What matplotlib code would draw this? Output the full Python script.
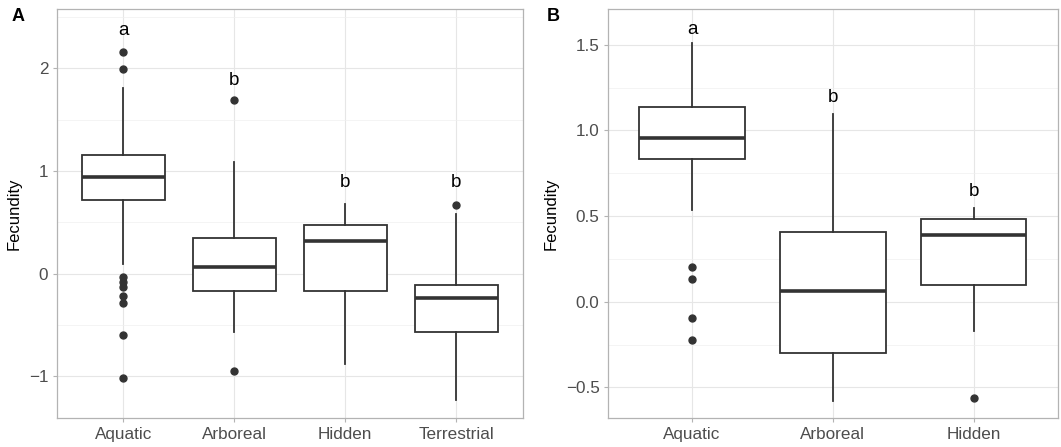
import numpy as np
import matplotlib
matplotlib.use("Agg")
import matplotlib.pyplot as plt
from matplotlib.ticker import MultipleLocator

plt.rcParams['font.family'] = ['Liberation Sans', 'DejaVu Sans']

# panel A: four habitats
cats_a = ['Aquatic', 'Arboreal', 'Hidden', 'Terrestrial']
med_a = [0.945, 0.068, 0.321, -0.234]
q1_a = [0.718, -0.169, -0.169, -0.571]
q3_a = [1.156, 0.344, 0.477, -0.110]
wlo_a = [0.091, -0.571, -0.883, -1.231]
whi_a = [1.805, 1.091, 0.675, 0.578]
fliers_a = [[2.159, 1.994, -0.029, -0.078, -0.130, -0.219, -0.289, -0.597, -1.013],
            [1.688, -0.945],
            [],
            [0.666]]
letters_a = ['a', 'b', 'b', 'b']
letter_y_a = [2.373, 1.88, 0.886, 0.886]

# panel B: three habitats
cats_b = ['Aquatic', 'Arboreal', 'Hidden']
med_b = [0.953, 0.062, 0.392]
q1_b = [0.832, -0.298, 0.097]
q3_b = [1.134, 0.409, 0.485]
wlo_b = [0.534, -0.577, -0.168]
whi_b = [1.509, 1.096, 0.548]
fliers_b = [[0.203, 0.133, -0.094, -0.222],
            [],
            [-0.561]]
letters_b = ['a', 'b', 'b']
letter_y_b = [1.591, 1.191, 0.641]

dark = '#333333'
grid_col = '#E6E6E6'
border_col = '#B3B3B3'


def boxpanel(ax, cats, med, q1, q3, wlo, whi, fliers, letters, ly, ylim, major, minor):
    stats = []
    for i in range(len(cats)):
        stats.append({'med': med[i], 'q1': q1[i], 'q3': q3[i],
                      'whislo': wlo[i], 'whishi': whi[i], 'fliers': fliers[i]})
    pos = np.arange(1, len(cats) + 1)
    ax.bxp(stats, positions=pos, widths=0.75, showcaps=False, patch_artist=True,
           boxprops=dict(facecolor='white', edgecolor=dark, linewidth=1.3),
           medianprops=dict(color=dark, linewidth=2.6),
           whiskerprops=dict(color=dark, linewidth=1.3),
           flierprops=dict(marker='o', markerfacecolor=dark, markeredgecolor=dark,
                           markersize=5),
           zorder=3)
    for p, t, y in zip(pos, letters, ly):
        ax.text(p, y, t, ha='center', va='center', fontsize=13.5, color='black', zorder=4)
    ax.set_xlim(0.4, len(cats) + 0.6)
    ax.set_ylim(*ylim)
    ax.set_xticks(pos)
    ax.set_xticklabels(cats)
    ax.yaxis.set_major_locator(MultipleLocator(major))
    ax.yaxis.set_minor_locator(MultipleLocator(minor))
    ax.grid(True, which='major', color=grid_col, linewidth=0.8, zorder=0)
    ax.grid(True, which='minor', axis='y', color='#F0F0F0', linewidth=0.5, zorder=0)
    ax.set_axisbelow(True)
    for s in ax.spines.values():
        s.set_color(border_col)
        s.set_linewidth(0.9)
    ax.tick_params(which='major', length=3, color=border_col, labelsize=12.3,
                   labelcolor='#4D4D4D', pad=3)
    ax.tick_params(which='minor', length=0)
    ax.set_ylabel('Fecundity', fontsize=12, color='black', labelpad=5)


fig = plt.figure(figsize=(10.61, 4.47), dpi=100)
ax_a = fig.add_axes([0.0534, 0.0642, 0.4394, 0.9148])
ax_b = fig.add_axes([0.5728, 0.0642, 0.4243, 0.9148])

boxpanel(ax_a, cats_a, med_a, q1_a, q3_a, wlo_a, whi_a, fliers_a, letters_a, letter_y_a,
         (-1.408, 2.575), 1, 0.5)
boxpanel(ax_b, cats_b, med_b, q1_b, q3_b, wlo_b, whi_b, fliers_b, letters_b, letter_y_b,
         (-0.68, 1.706), 0.5, 0.25)

ax_b.set_yticklabels([f'{v:.1f}'.replace('-', '\u2212') for v in ax_b.get_yticks()])
ax_b.set_ylim(-0.68, 1.706)

fig.text(0.011, 0.962, 'A', fontsize=13, fontweight='bold', va='center', ha='left')
fig.text(0.515, 0.962, 'B', fontsize=13, fontweight='bold', va='center', ha='left')

fig.savefig('out.png', dpi=100)
